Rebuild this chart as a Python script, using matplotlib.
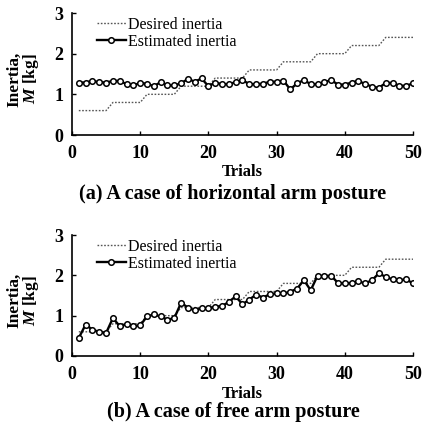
import matplotlib
matplotlib.use('Agg')
import matplotlib.pyplot as plt

plt.rcParams['font.family'] = ['Liberation Serif', 'DejaVu Serif']
plt.rcParams['mathtext.fontset'] = 'custom'
plt.rcParams['mathtext.it'] = 'Liberation Serif:italic:bold'

trials = list(range(1, 51))

# desired inertia, steps of 5 trials (same in both cases)
desired = [0.6]*5 + [0.8]*5 + [1.0]*5 + [1.2]*5 + [1.4]*5 + \
          [1.6]*5 + [1.8]*5 + [2.0]*5 + [2.2]*5 + [2.4]*5

est_horizontal = [1.29, 1.29, 1.33, 1.30, 1.29, 1.33, 1.33, 1.25, 1.22, 1.28,
                  1.26, 1.20, 1.30, 1.22, 1.22, 1.27, 1.38, 1.31, 1.39, 1.20,
                  1.29, 1.25, 1.25, 1.30, 1.35, 1.25, 1.25, 1.26, 1.31, 1.31,
                  1.34, 1.12, 1.27, 1.35, 1.25, 1.25, 1.30, 1.35, 1.24, 1.24,
                  1.29, 1.33, 1.25, 1.19, 1.16, 1.28, 1.28, 1.21, 1.21, 1.27]

est_free = [0.45, 0.78, 0.65, 0.60, 0.57, 0.94, 0.74, 0.79, 0.74, 0.76,
            0.98, 1.03, 0.98, 0.90, 0.94, 1.32, 1.20, 1.13, 1.18, 1.19,
            1.22, 1.24, 1.34, 1.48, 1.28, 1.40, 1.52, 1.45, 1.53, 1.55,
            1.55, 1.59, 1.67, 1.88, 1.63, 1.99, 1.98, 1.99, 1.81, 1.80,
            1.81, 1.85, 1.80, 1.88, 2.05, 1.96, 1.90, 1.88, 1.90, 1.80]

captions = ['(a) A case of horizontal arm posture', '(b) A case of free arm posture']

fig = plt.figure(figsize=(4.24, 4.28), dpi=100)
W, H = 424.0, 428.0
# axes boxes in pixels: left, top(y of 3), bottom(y of 0)
boxes = [(72, 13, 135), (72, 235, 356)]
cap_y = [194, 412]

for k, (est, cap) in enumerate(zip([est_horizontal, est_free], captions)):
    x0, ytop, ybot = boxes[k]
    ax = fig.add_axes([x0/W, 1 - ybot/H, (413 - x0)/W, (ybot - ytop)/H])
    ax.plot(trials, desired, color='#555555', linestyle=(0, (1.2, 1.2)), lw=1.0,
            label='Desired inertia')
    ax.plot(trials, est, color='black', lw=1.7, marker='o', markersize=4.0,
            markerfacecolor='white', markeredgewidth=1.1, label='Estimated inertia')
    ax.set_xlim(0, 50)
    ax.set_ylim(0, 3)
    ax.set_xticks([0, 10, 20, 30, 40, 50])
    ax.set_yticks([0, 1, 2, 3])
    for s in ['top', 'right']:
        ax.spines[s].set_visible(False)
    for s in ['left', 'bottom']:
        ax.spines[s].set_linewidth(1.2)
    ax.tick_params(direction='in', length=3, width=1, labelsize=13)
    ax.tick_params(axis='x', pad=7)
    ax.tick_params(axis='y', pad=6)
    for lab in ax.get_xticklabels() + ax.get_yticklabels():
        lab.set_fontweight('bold')
    ax.set_xlabel('Trials', fontsize=12, fontweight='bold', labelpad=2)
    ax.set_ylabel('Inertia,\n$M$ [kg]', fontsize=12.5, fontweight='bold',
                  linespacing=0.9)
    ax.yaxis.set_label_coords(-0.092, 0.46)
    ax.legend(loc='upper left', bbox_to_anchor=(0.04, 1.06), frameon=False,
              fontsize=11.5, handlelength=1.8, handletextpad=0.15,
              labelspacing=0.05, borderpad=0.2)
    fig.text(233/W, 1 - cap_y[k]/H, cap, ha='center', va='center',
             fontsize=14.5, fontweight='bold')

fig.savefig('out.png', dpi=100)
